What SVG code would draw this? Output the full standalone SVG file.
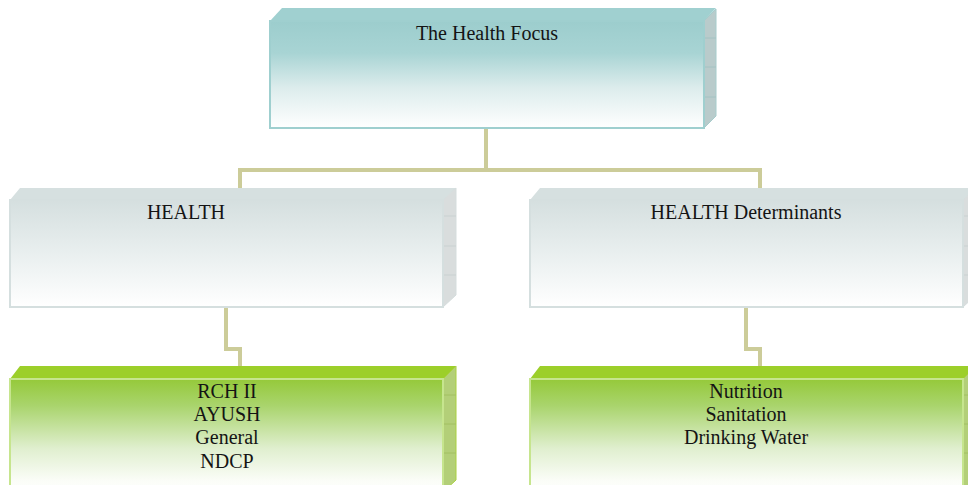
<svg xmlns="http://www.w3.org/2000/svg" width="968" height="485" viewBox="0 0 968 485">
  <defs>
    <linearGradient id="gTeal" x1="0" y1="0" x2="0" y2="1">
      <stop offset="0" stop-color="#9ccdcd"/>
      <stop offset="0.3" stop-color="#a8d4d4"/>
      <stop offset="0.62" stop-color="#dcecec"/>
      <stop offset="1" stop-color="#ffffff"/>
    </linearGradient>
    <linearGradient id="gGray" x1="0" y1="0" x2="0" y2="1">
      <stop offset="0" stop-color="#d5dfdf"/>
      <stop offset="0.5" stop-color="#e9efef"/>
      <stop offset="1" stop-color="#ffffff"/>
    </linearGradient>
    <linearGradient id="gGreen" x1="0" y1="0" x2="0" y2="1">
      <stop offset="0" stop-color="#95c93a"/>
      <stop offset="0.22" stop-color="#a9d46c"/>
      <stop offset="0.58" stop-color="#e0efcf"/>
      <stop offset="0.85" stop-color="#fbfdf8"/>
      <stop offset="1" stop-color="#ffffff"/>
    </linearGradient>
  </defs>
  <style>
    .conn { fill: none; stroke: #cccc99; stroke-width: 4; stroke-linejoin: miter; }
    .lbl { font-family: "Liberation Serif", "Times New Roman", serif; font-size: 20px; fill: #141414; text-anchor: middle; }
    .teal .front { fill: url(#gTeal); stroke: #9fcfcf; stroke-width: 2; }
    .teal .top { fill: #a0d0d0; }
    .teal .side { fill: #b9cbcb; stroke: #a6cccc; stroke-width: 1; }
    .teal .div { stroke: #a3c2c2; stroke-width: 1; }
    .gray .front { fill: url(#gGray); stroke: #d5dfdf; stroke-width: 2; }
    .gray .top { fill: #d6e0e0; }
    .gray .side { fill: #d9dddd; stroke: #d5dddd; stroke-width: 1; }
    .gray .div { stroke: #c9d1d1; stroke-width: 1; }
    .green .front { fill: url(#gGreen); stroke: #c6e58e; stroke-width: 2; }
    .green .top { fill: #9ccf2a; }
    .green .side { fill: #b3cf78; stroke: #a9d040; stroke-width: 1; }
    .green .div { stroke: #a2c060; stroke-width: 1; }
  </style>

  <!-- connectors -->
  <g id="connectors">
    <path class="conn" d="M486 128 V170 M240 188 V170 H760 V188"/>
    <path class="conn" d="M226 307 V349 H240 V367"/>
    <path class="conn" d="M746 307 V349 H760 V367"/>
  </g>

  <!-- root -->
  <g id="health-focus" class="teal">
    <polygon class="top" points="270,21 282,8 716,8 704,21"/>
    <polygon class="side" points="704,21 716,9 716,116 704,128"/>
    <path class="div" d="M704 38 H716 M704 67 H716 M704 97 H716"/>
    <rect class="front" x="270" y="21" width="434" height="107"/>
    <text class="lbl" x="487" y="40">The Health Focus</text>
  </g>

  <!-- second level -->
  <g id="health" class="gray">
    <polygon class="top" points="10,200 20,188 456,188 443,200"/>
    <polygon class="side" points="443,200 456,188 456,295 443,307"/>
    <path class="div" d="M443 216 H456 M443 246 H456 M443 275 H456"/>
    <rect class="front" x="10" y="200" width="433" height="107"/>
    <text class="lbl" x="186" y="219">HEALTH</text>
  </g>

  <g id="health-determinants" class="gray">
    <polygon class="top" points="530,200 540,188 976,188 963,200"/>
    <polygon class="side" points="963,200 976,188 976,295 963,307"/>
    <path class="div" d="M963 216 H976 M963 246 H976 M963 275 H976"/>
    <rect class="front" x="530" y="200" width="433" height="107"/>
    <text class="lbl" x="746" y="219">HEALTH Determinants</text>
  </g>

  <!-- third level -->
  <g id="health-programmes" class="green">
    <polygon class="top" points="10,379 20,366 456,366 443,379"/>
    <polygon class="side" points="443,379 456,366 456,480 443,492"/>
    <path class="div" d="M443 395 H456 M443 424 H456 M443 453 H456"/>
    <rect class="front" x="10" y="379" width="433" height="120"/>
    <text class="lbl" x="227" y="398">RCH II</text>
    <text class="lbl" x="227" y="421">AYUSH</text>
    <text class="lbl" x="227" y="444">General</text>
    <text class="lbl" x="227" y="468">NDCP</text>
  </g>

  <g id="determinant-areas" class="green">
    <polygon class="top" points="530,379 540,366 976,366 963,379"/>
    <polygon class="side" points="963,379 976,366 976,480 963,492"/>
    <path class="div" d="M963 395 H976 M963 424 H976 M963 453 H976"/>
    <rect class="front" x="530" y="379" width="433" height="120"/>
    <text class="lbl" x="746" y="398">Nutrition</text>
    <text class="lbl" x="746" y="421">Sanitation</text>
    <text class="lbl" x="746" y="444">Drinking Water</text>
  </g>
</svg>
